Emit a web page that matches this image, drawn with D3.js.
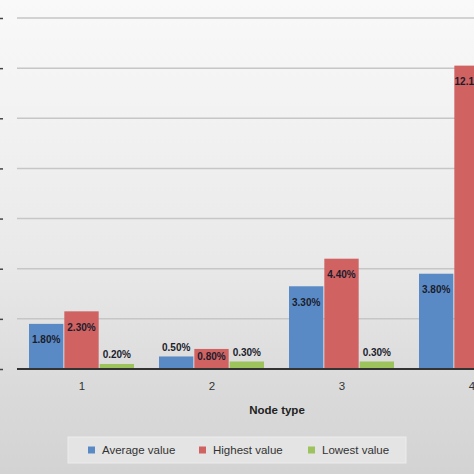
<html>
<head>
  <script src="https://d3js.org/d3.v7.min.js"></script>
  <style>
    body { margin: 0; background: #d6d6d6; }
    text { font-family: "Liberation Sans", Arial, sans-serif; }
  </style>
</head>
<body>
  <svg id="chart" width="474" height="474"></svg>
  <script>
    // chart values
    const nodeTypes = ["1", "2", "3", "4"];
    const seriesNames = ["Average value", "Highest value", "Lowest value"];
    const averageValues = [1.8, 0.5, 3.3, 3.8];
    const highestValues = [2.3, 0.8, 4.4, 12.1];
    const lowestValues = [0.2, 0.3, 0.3, 0.3];
    const yTicks = [0, 2, 4, 6, 8, 10, 12, 14];

    const colors = ["#5A8AC6", "#D06262", "#9DC35C"];
    const seriesValues = [averageValues, highestValues, lowestValues];

    const svg = d3.select("#chart");
    const width = +svg.attr("width");
    const height = +svg.attr("height");

    // background gradient
    const defs = svg.append("defs");
    const grad = defs.append("linearGradient")
      .attr("id", "bg")
      .attr("x1", 0).attr("y1", 0).attr("x2", 0).attr("y2", 1);
    grad.append("stop").attr("offset", "0").attr("stop-color", "#f9f9f9");
    grad.append("stop").attr("offset", "0.55").attr("stop-color", "#e9e9e9");
    grad.append("stop").attr("offset", "0.8").attr("stop-color", "#dbdbdb");
    grad.append("stop").attr("offset", "1").attr("stop-color", "#d3d3d3");

    svg.append("rect")
      .attr("width", width)
      .attr("height", height)
      .attr("fill", "url(#bg)");

    // the plot runs off the right edge, like the cropped original
    const x0 = d3.scaleBand()
      .domain(nodeTypes)
      .range([17, 537])
      .paddingInner(24 / 130)
      .paddingOuter(12 / 130);

    const x1 = d3.scaleBand()
      .domain(seriesNames)
      .range([0, x0.bandwidth()]);

    const y = d3.scaleLinear()
      .domain([0, 14])
      .range([369, 18]);

    // gridlines
    svg.append("g")
      .selectAll("line")
      .data(yTicks.slice(1))
      .enter()
      .append("line")
      .attr("x1", 17)
      .attr("x2", width)
      .attr("y1", d => y(d))
      .attr("y2", d => y(d))
      .attr("stroke", "#c6c6c6")
      .attr("stroke-width", 1.5);

    // little tick marks left over from the cut off y axis
    const yAxis = svg.append("g")
      .attr("transform", "translate(3,0)")
      .call(d3.axisLeft(y).tickValues(yTicks).tickSize(3).tickFormat(""));
    yAxis.select(".domain").remove();
    yAxis.selectAll(".tick line").attr("stroke", "#444").attr("stroke-width", 1.5);

    // bars
    const rows = nodeTypes.map((n, i) => ({
      node: n,
      values: seriesNames.map((s, j) => ({ series: s, idx: j, value: seriesValues[j][i] }))
    }));

    const groups = svg.append("g")
      .selectAll("g")
      .data(rows)
      .enter()
      .append("g")
      .attr("transform", d => "translate(" + x0(d.node) + ",0)");

    groups.selectAll("rect")
      .data(d => d.values)
      .enter()
      .append("rect")
      .attr("x", d => x1(d.series))
      .attr("width", x1.bandwidth() - 1)
      .attr("y", d => y(d.value))
      .attr("height", d => y(0) - y(d.value))
      .attr("fill", d => colors[d.idx]);

    // data labels: inside the top for tall bars, above for short ones
    function labelY(v) {
      const top = y(v);
      const h = y(0) - top;
      if (h < 15) return top - 9;
      return top + Math.min(16, h / 2 - 2);
    }

    groups.selectAll("text")
      .data(d => d.values)
      .enter()
      .append("text")
      .attr("x", d => x1(d.series) + (x1.bandwidth() - 1) / 2)
      .attr("y", d => labelY(d.value))
      .attr("dy", "0.35em")
      .attr("text-anchor", "middle")
      .attr("font-size", 10)
      .attr("font-weight", "bold")
      .attr("fill", "#1b1d2c")
      .text(d => d.value.toFixed(2) + "%");

    // x axis
    const xAxis = svg.append("g")
      .attr("transform", "translate(0," + y(0) + ")")
      .call(d3.axisBottom(x0).tickSize(0).tickPadding(13));
    xAxis.select(".domain")
      .attr("d", "M17,0H" + width)
      .attr("stroke", "#333")
      .attr("stroke-width", 2);
    xAxis.selectAll(".tick text")
      .attr("font-size", 11.5)
      .attr("fill", "#333");

    svg.append("text")
      .attr("x", 277)
      .attr("y", 410)
      .attr("dy", "0.35em")
      .attr("text-anchor", "middle")
      .attr("font-size", 11.5)
      .attr("font-weight", "bold")
      .attr("fill", "#222")
      .text("Node type");

    // legend
    const legend = svg.append("g");
    legend.append("rect")
      .attr("x", 68)
      .attr("y", 437)
      .attr("width", 338)
      .attr("height", 26)
      .attr("fill", "#e4e4e4")
      .attr("stroke", "#ececec");

    const legendX = [88, 199, 308];
    const items = legend.selectAll("g.item")
      .data(seriesNames)
      .enter()
      .append("g")
      .attr("class", "item")
      .attr("transform", (d, i) => "translate(" + legendX[i] + ",450)");

    items.append("rect")
      .attr("x", 0)
      .attr("y", -3.5)
      .attr("width", 7)
      .attr("height", 7)
      .attr("fill", (d, i) => colors[i]);

    items.append("text")
      .attr("x", 14)
      .attr("y", 0)
      .attr("dy", "0.35em")
      .attr("font-size", 11.5)
      .attr("fill", "#333")
      .text(d => d);
  </script>
</body>
</html>
